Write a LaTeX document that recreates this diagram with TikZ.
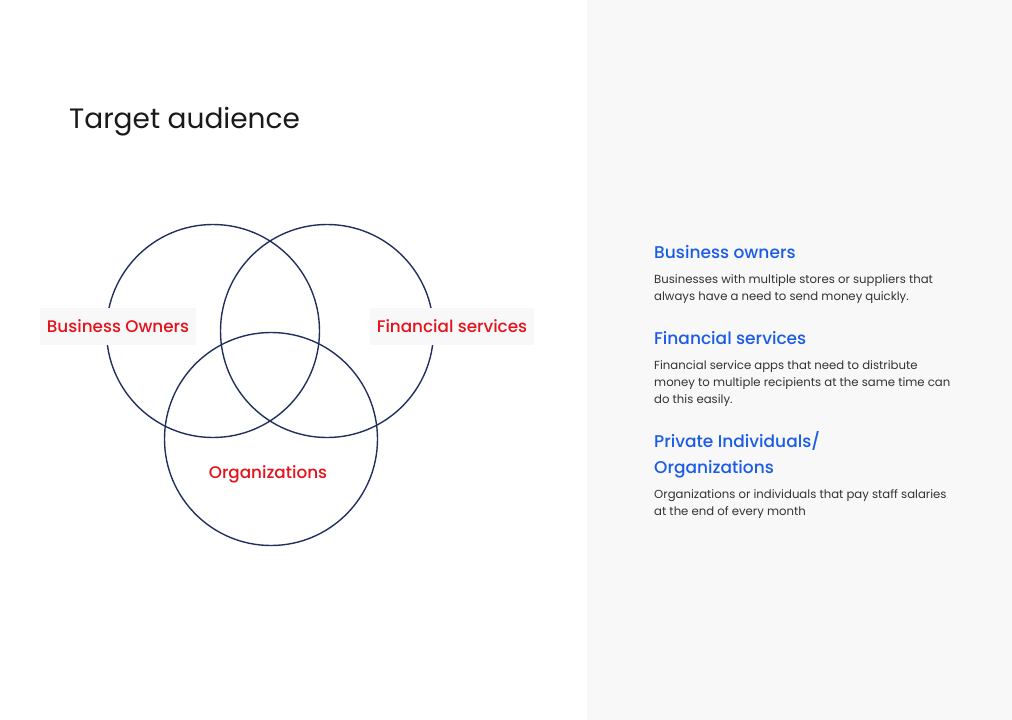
\documentclass[tikz,border=0pt]{standalone}
\usepackage{fontspec}
\setmainfont{Poppins}
\newfontfamily\popmed{Poppins}[UprightFont=* Medium]
\definecolor{panelgray}{HTML}{F8F8F8}
\definecolor{ringnavy}{HTML}{22305E}
\definecolor{labelred}{HTML}{E3121B}
\definecolor{headblue}{HTML}{1A5CE6}
\definecolor{bodygray}{HTML}{333333}
\begin{document}
\begin{tikzpicture}[x=1pt,y=-1pt,
  ring/.style={draw=ringnavy,line width=1.4pt},
  tag/.style={fill=panelgray,text=labelred,font=\popmed\fontsize{16.8}{19}\selectfont,inner xsep=7pt,minimum height=37pt},
  head/.style={anchor=base west,text=headblue,align=left,inner sep=0pt,font=\popmed\fontsize{17}{26}\selectfont},
  body/.style={anchor=base west,text=bodygray,align=left,inner sep=0pt,font=\fontsize{11.7}{17}\selectfont}]
  \useasboundingbox (0,0) rectangle (1012,720);
  \fill[white] (0,0) rectangle (587,720);
  \fill[panelgray] (587,0) rectangle (1012,720);

  % title
  \node[anchor=base west,inner sep=0pt,font=\fontsize{28}{32}\selectfont,text=black!90] (title) at (69,128) {Target audience};

  % three overlapping sets
  \draw[ring] (213,331) circle (106.5);
  \draw[ring] (327,331) circle (106.5);
  \draw[ring] (271,439) circle (106.5);

  % set labels
  \node[tag,minimum width=156pt] (lbo) at (118,326.5) {Business Owners};
  \node[tag,minimum width=164pt] (lfs) at (452,326.5) {Financial services};
  \node[text=labelred,font=\popmed\fontsize{16.8}{19}\selectfont] (lorg) at (268,474) {Organizations};

  % descriptions (multi-line nodes sit on the baseline of their last line)
  \node[head] (h1) at (654,258) {Business owners};
  \node[body] (b1) at (654,300.5) {Businesses with multiple stores or suppliers that\\always have a need to send money quickly.};
  \node[head] (h2) at (654,344) {Financial services};
  \node[body] (b2) at (654,403.5) {Financial service apps that need to distribute\\money to multiple recipients at the same time can\\do this easily.};
  \node[head] (h3) at (654,473) {Private Individuals/\\Organizations};
  \node[body] (b3) at (654,515.5) {Organizations or individuals that pay staff salaries\\at the end of every month};
\end{tikzpicture}
\end{document}
